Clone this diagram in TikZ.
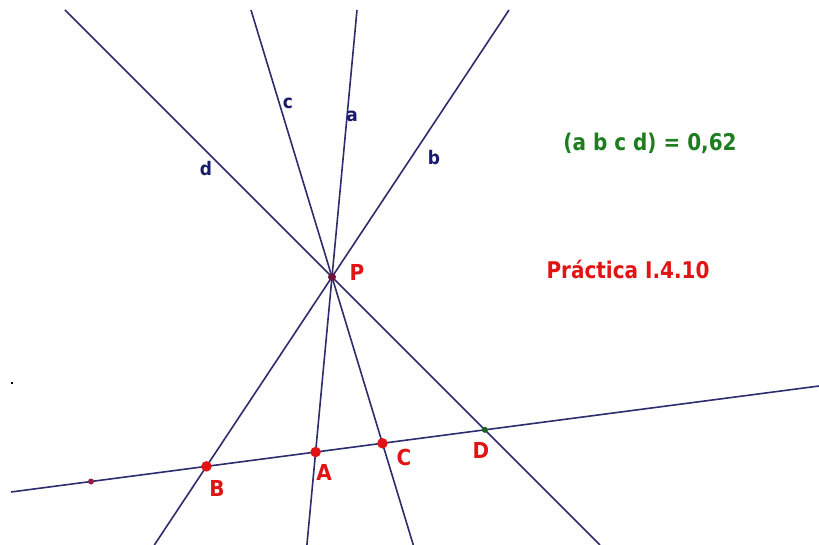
\documentclass[tikz,border=0pt]{standalone}
\usepackage{fontspec}
\setmainfont{DejaVu Sans}
\usetikzlibrary{intersections,calc}
\definecolor{linec}{RGB}{45,45,110}
\definecolor{ptred}{RGB}{225,20,20}
\definecolor{txtgreen}{RGB}{30,125,30}
\definecolor{lblblue}{RGB}{25,25,110}
\begin{document}
\begin{tikzpicture}[x=1pt,y=-1pt,
  ln/.style={draw=linec,line width=1.6pt},
  dot/.style={circle,fill=ptred,inner sep=0pt,minimum size=10.5pt},
  ptlabel/.style={text=ptred,font=\bfseries\fontsize{20}{20}\selectfont,inner sep=0pt,yscale=1.1},
  lnlabel/.style={text=lblblue,font=\bfseries\fontsize{17}{17}\selectfont,inner sep=0pt,yscale=1.1},
  bigtext/.style={font=\bfseries\fontsize{20}{20}\selectfont,inner sep=0pt,yscale=1.15}]
\useasboundingbox[fill=white] (0,0) rectangle (819,545);
% pencil of lines through P
\coordinate (P) at (332,277);
\coordinate (Ta) at (357,10);
\coordinate (Tb) at (509,10);
\coordinate (Tc) at (251,10);
\coordinate (Td) at (65,10);
\coordinate (Ba) at ($(Ta)!2.0037!(P)$);
\coordinate (Bb) at ($(Tb)!2.0037!(P)$);
\coordinate (Bc) at ($(Tc)!2.0037!(P)$);
\coordinate (Bd) at ($(Td)!2.0037!(P)$);
\draw[ln,name path=la] (Ta) -- (Ba);
\draw[ln,name path=lb] (Tb) -- (Bb);
\draw[ln,name path=lc] (Tc) -- (Bc);
\draw[ln,name path=ld] (Td) -- (Bd);
% transversal
\coordinate (L) at (11,492);
\coordinate (R) at (819,386);
\draw[ln,name path=base] (L) -- (R);
\path[name intersections={of=la and base,by={A}}];
\path[name intersections={of=lb and base,by={B}}];
\path[name intersections={of=lc and base,by={C}}];
\path[name intersections={of=ld and base,by={D}}];
% points
\node[dot] (dA) at (A) {};
\node[dot] (dB) at (B) {};
\node[dot] (dC) at (C) {};
\node[circle,fill=txtgreen!80!black,inner sep=0pt,minimum size=6pt] (dD) at (D) {};
\node[circle,fill={rgb,255:red,110;green,20;blue,60},inner sep=0pt,minimum size=8pt] (dP) at (P) {};
\node[circle,fill={rgb,255:red,150;green,30;blue,70},inner sep=0pt,minimum size=6pt] (dE) at (91,481.5) {};
\node[fill=black,inner sep=0pt,minimum size=2pt] (dot0) at (12,383) {};
% point labels
\node[ptlabel] (lA) at (324,472) {A};
\node[ptlabel] (lB) at (217,488) {B};
\node[ptlabel] (lC) at (404,457) {C};
\node[ptlabel] (lD) at (481,450) {D};
\node[ptlabel] (lP) at (357,272) {P};
% line labels
\node[lnlabel] (na) at (352,116) {a};
\node[lnlabel] (nb) at (434,158) {b};
\node[lnlabel] (nc) at (288,103) {c};
\node[lnlabel] (nd) at (206,169) {d};
% texts
\node[bigtext,text=txtgreen] (cr) at (650,143) {(a b c d) = 0,62};
\node[bigtext,text=ptred] (tt) at (628,269) {Práctica I.4.10};
\end{tikzpicture}
\end{document}
